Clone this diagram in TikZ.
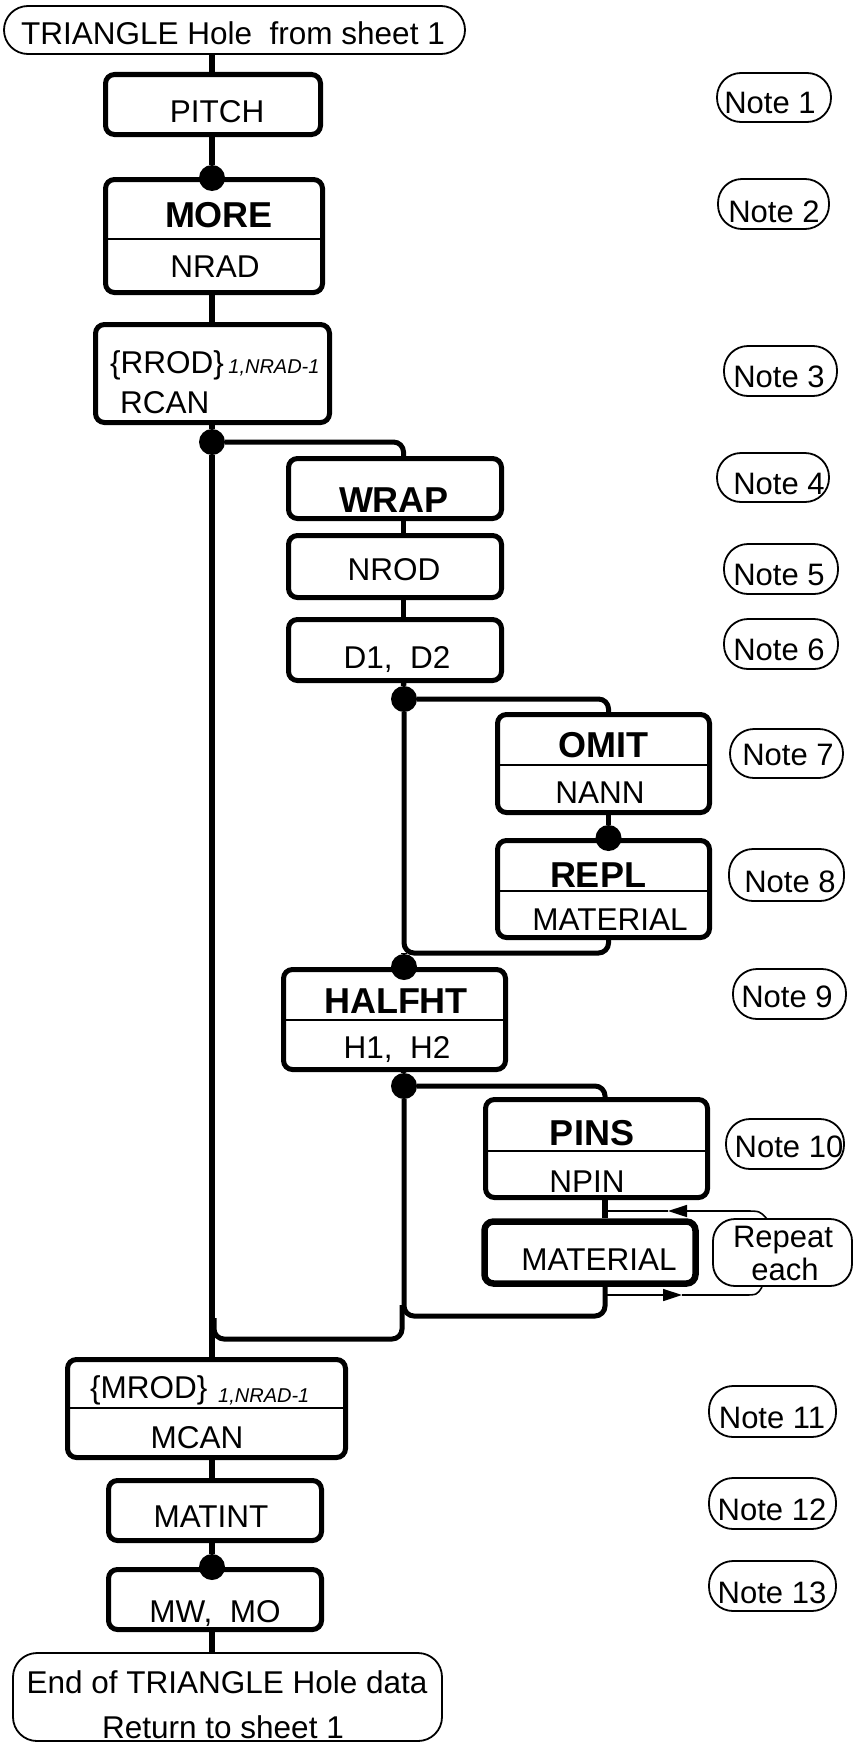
\documentclass[tikz,border=0pt]{standalone}
\usepackage{fontspec}
\setmainfont{Liberation Sans}
\usetikzlibrary{arrows.meta}
\begin{document}
\begin{tikzpicture}[x=1pt,y=-1pt,
 box/.style={draw, line width=5pt, rounded corners=9pt, inner sep=0pt},
 term/.style={draw, line width=1.8pt, rounded corners=24pt, inner sep=0pt},
 note/.style={draw, line width=1.8pt, rounded corners=24pt, inner sep=0pt},
 txt/.style={inner sep=0pt, anchor=base, font=\fontsize{31.5}{36}\selectfont},
 btxt/.style={inner sep=0pt, anchor=base, font=\fontsize{36}{40}\selectfont\bfseries},
 ntxt/.style={inner sep=0pt, anchor=base, font=\fontsize{31}{36}\selectfont},
 subtxt/.style={inner sep=0pt, anchor=base west, font=\fontsize{20}{24}\selectfont\itshape},
 conn/.style={line width=5.5pt},
 loopl/.style={line width=5pt, rounded corners=10pt},
 dot/.style={circle, fill, inner sep=0pt, minimum size=26pt},
 divl/.style={line width=2pt},
 thinl/.style={line width=1.6pt},
 tip/.style={-{Triangle[length=19pt,width=12pt]}}
]
\useasboundingbox (0,0) rectangle (854,1745);

% x positions of the vertical connectors
\coordinate (mx) at (212,0);
\coordinate (ax) at (403.5,0);
\coordinate (bx) at (608.5,0);
\coordinate (cx) at (605,0);

% terminals
\node[term, minimum width=461pt, minimum height=48pt] (top) at (234.5,30) {};
\node[term, minimum width=429pt, minimum height=88pt] (end) at (227.5,1697) {};

% boxes
\node[box, minimum width=215pt, minimum height=60pt] (pitch) at (213,104.5) {};
\node[box, minimum width=217pt, minimum height=113pt] (more) at (214,236) {};
\node[box, minimum width=234pt, minimum height=98pt] (rrod) at (212.5,373.5) {};
\node[box, minimum width=213pt, minimum height=60pt] (wrap) at (395,488.5) {};
\node[box, minimum width=213pt, minimum height=62pt] (nrod) at (395,566.5) {};
\node[box, minimum width=213pt, minimum height=61pt] (d1d2) at (395,650) {};
\node[box, minimum width=212pt, minimum height=98pt] (omit) at (603.5,763.5) {};
\node[box, minimum width=212pt, minimum height=97pt] (repl) at (603.5,889) {};
\node[box, minimum width=222pt, minimum height=100pt] (halfht) at (394.5,1019.5) {};
\node[box, minimum width=222pt, minimum height=98pt] (pins) at (596.5,1148.5) {};
\node[box, line width=6.5pt, minimum width=211pt, minimum height=62pt] (mat) at (590,1252.5) {};
\node[box, minimum width=278pt, minimum height=98pt] (mrod) at (206.5,1408.5) {};
\node[box, minimum width=213pt, minimum height=60pt] (matint) at (215,1510.5) {};
\node[box, minimum width=213pt, minimum height=60pt] (mwmo) at (215,1599.5) {};

% dividers
\draw[divl] (more.west |- 0,239) -- (more.east |- 0,239);
\draw[divl] (omit.west |- 0,765) -- (omit.east |- 0,765);
\draw[divl] (repl.west |- 0,891) -- (repl.east |- 0,891);
\draw[divl] (halfht.west |- 0,1020) -- (halfht.east |- 0,1020);
\draw[divl] (pins.west |- 0,1151) -- (pins.east |- 0,1151);
\draw[divl] (mrod.west |- 0,1408) -- (mrod.east |- 0,1408);

% notes
\node[note, minimum width=114pt, minimum height=49pt] (n1) at (774,97.5) {};
\node[note, minimum width=111pt, minimum height=50pt] (n2) at (773.5,204) {};
\node[note, minimum width=113pt, minimum height=50pt] (n3) at (780.5,371) {};
\node[note, minimum width=112pt, minimum height=49pt] (n4) at (773,477.5) {};
\node[note, minimum width=114pt, minimum height=50pt] (n5) at (781,569) {};
\node[note, minimum width=114pt, minimum height=50pt] (n6) at (781,644) {};
\node[note, minimum width=113pt, minimum height=49pt] (n7) at (786.5,753.5) {};
\node[note, minimum width=115pt, minimum height=52pt] (n8) at (786.5,875) {};
\node[note, minimum width=113pt, minimum height=50pt] (n9) at (789.5,994) {};
\node[note, minimum width=118pt, minimum height=50pt] (n10) at (785,1144) {};
\node[note, minimum width=127pt, minimum height=51pt] (n11) at (772.5,1411.5) {};
\node[note, minimum width=127pt, minimum height=51pt] (n12) at (772.5,1503.5) {};
\node[note, minimum width=127pt, minimum height=50pt] (n13) at (772.5,1586) {};
\node[note, rounded corners=22pt, minimum width=139pt, minimum height=67pt] (rep) at (782.5,1252.5) {};

% dots
\node[dot] (d1) at (212,178) {};
\node[dot] (d2) at (212,442) {};
\node[dot] (d3) at (404,699) {};
\node[dot] (d4) at (608.5,838) {};
\node[dot] (d5) at (404,967) {};
\node[dot] (d6) at (404,1086) {};
\node[dot] (d7) at (212,1567) {};

% main column connectors
\draw[conn] (top.south -| mx) -- (pitch.north -| mx);
\draw[conn] (pitch.south -| mx) -- (d1);
\draw[conn] (more.south -| mx) -- (rrod.north -| mx);
\draw[conn] (rrod.south -| mx) -- (d2) -- (mrod.north -| mx);
\draw[conn] (mrod.south -| mx) -- (matint.north -| mx);
\draw[conn] (matint.south -| mx) -- (d7);
\draw[conn] (mwmo.south -| mx) -- (end.north -| mx);

% WRAP branch
\draw[loopl] (d2) -- (ax |- d2) -- (wrap.north -| ax);
\draw[conn] (wrap.south -| ax) -- (nrod.north -| ax);
\draw[conn] (nrod.south -| ax) -- (d1d2.north -| ax);
\draw[conn] (d1d2.south -| ax) -- (d3);

% OMIT / REPL loop
\coordinate (l1a) at (404,953);
\coordinate (l1b) at (608.5,953);
\draw[loopl] (d3) -- (bx |- d3) -- (omit.north -| bx);
\draw[conn] (omit.south -| bx) -- (d4);
\draw[loopl] (d3) -- (l1a) -- (l1b) -- (repl.south -| bx);
\draw[conn] (l1a) -- (d5);

% HALFHT
\draw[conn] (halfht.south -| ax) -- (d6);

% PINS loop
\coordinate (l2a) at (404,1316);
\coordinate (l2b) at (605,1316);
\draw[loopl] (d6) -- (cx |- d6) -- (pins.north -| cx);
\draw[conn] (pins.south -| cx) -- (mat.north -| cx);
\draw[loopl] (d6) -- (l2a) -- (l2b) -- (mat.south -| cx);

% outer loop return
\coordinate (o1) at (402,1305);
\coordinate (o2) at (402,1339);
\coordinate (o3) at (214,1339);
\coordinate (o4) at (214,1318);
\draw[loopl] (o1) -- (o2) -- (o3) -- (o4);

% repeat each arrows
\coordinate (ra) at (607,1211);
\coordinate (rb) at (607,1295);
\coordinate (rt) at (668,1211);
\coordinate (rs) at (682,1295);
\coordinate (rtop) at (767,1219);
\coordinate (rbot) at (762,1287);
\draw[thinl, tip] (rtop) .. controls (760,1211) .. (745,1211) -- (rt);
\draw[thinl] (rt) -- (ra);
\draw[thinl, tip] (rb) -- (rs);
\draw[thinl] (rs) -- (743,1295) .. controls (757,1295) .. (rbot);

% texts
\node[txt] at (233,45) {TRIANGLE Hole\ \ from sheet 1};
\node[txt] at (217,122) {PITCH};
\node[btxt] at (219,227) {MORE};
\node[txt] at (215,277) {NRAD};
\node[txt, anchor=base west] (rr) at (110,373) {\{RROD\}};
\node[subtxt] at ([xshift=4pt]rr.base east) {1,NRAD-1};
\node[txt, anchor=base west] at (120,413) {RCAN};
\node[btxt] at (394,512) {WRAP};
\node[txt] at (394,580) {NROD};
\node[txt] at (397,668) {D1,\ \ D2};
\node[btxt] at (603,757) {OMIT};
\node[txt] at (600,803) {NANN};
\node[btxt] at (598,887) {REPL};
\node[txt] at (610,930) {MATERIAL};
\node[btxt] at (396,1013) {HALFHT};
\node[txt] at (397,1058) {H1,\ \ H2};
\node[btxt] at (592,1145) {PINS};
\node[txt] at (587,1192) {NPIN};
\node[txt] at (599,1270) {MATERIAL};
\node[ntxt] at (783,1247) {Repeat};
\node[ntxt] at (785,1280) {each};
\node[txt, anchor=base west] (mr) at (90,1398) {\{MROD\}};
\node[subtxt] at (218,1402) {1,NRAD-1};
\node[txt] at (197,1448) {MCAN};
\node[txt] at (211,1527) {MATINT};
\node[txt] at (215,1622) {MW,\ \ MO};
\node[txt] at (227,1693) {End of TRIANGLE Hole data};
\node[txt] at (223,1738) {Return to sheet 1};

% note texts
\node[ntxt] at (770,113) {Note 1};
\node[ntxt] at (774,222) {Note 2};
\node[ntxt] at (779,387) {Note 3};
\node[ntxt] at (779,494) {Note 4};
\node[ntxt] at (779,585) {Note 5};
\node[ntxt] at (779,660) {Note 6};
\node[ntxt] at (788,765) {Note 7};
\node[ntxt] at (790,892) {Note 8};
\node[ntxt] at (787,1007) {Note 9};
\node[ntxt] at (789,1157) {Note 10};
\node[ntxt] at (772,1428) {Note 11};
\node[ntxt] at (772,1520) {Note 12};
\node[ntxt] at (772,1603) {Note 13};
\end{tikzpicture}
\end{document}
